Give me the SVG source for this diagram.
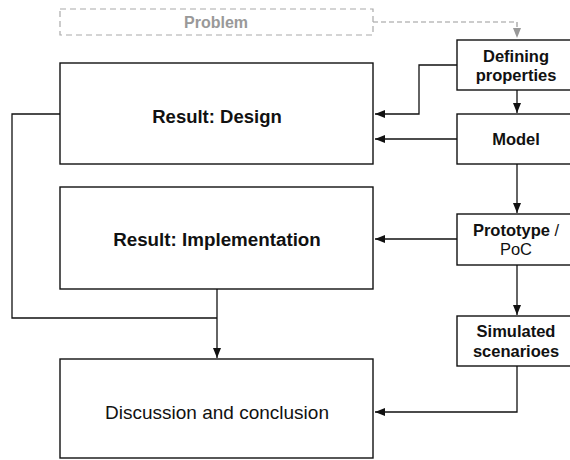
<svg xmlns="http://www.w3.org/2000/svg" width="570" height="460" viewBox="0 0 570 460">
<style>
.box{fill:#fff;stroke:#111;stroke-width:1.4}
.dbox{fill:#fff;stroke:#aaa;stroke-width:1.2;stroke-dasharray:6 4}
.t{font-family:"Liberation Sans",Arial,sans-serif;fill:#111;text-anchor:middle}
.b{font-weight:bold}
.c{fill:none;stroke:#111;stroke-width:1.3}
.dc{fill:none;stroke:#999;stroke-width:1.2;stroke-dasharray:5 3}
</style>
<defs>
<marker id="ah" viewBox="0 0 10 8" refX="10" refY="4" markerWidth="10" markerHeight="8" markerUnits="userSpaceOnUse" orient="auto"><path d="M0,0L10,4L0,8z" fill="#111"/></marker>
<marker id="ahg" viewBox="0 0 10 8" refX="10" refY="4" markerWidth="10" markerHeight="8" markerUnits="userSpaceOnUse" orient="auto"><path d="M0,0L10,4L0,8z" fill="#999"/></marker>
</defs>
<g id="connectors">
<path class="dc" d="M373,22H517V38" marker-end="url(#ahg)"/>
<path class="c" d="M457,65H419V114H375" marker-end="url(#ah)"/>
<path class="c" d="M517,90V113" marker-end="url(#ah)"/>
<path class="c" d="M457,139H375" marker-end="url(#ah)"/>
<path class="c" d="M517,164V213" marker-end="url(#ah)"/>
<path class="c" d="M457,239H375" marker-end="url(#ah)"/>
<path class="c" d="M517,265V315" marker-end="url(#ah)"/>
<path class="c" d="M517,366V412H375" marker-end="url(#ah)"/>
<path class="c" d="M60,114H12V318H217"/>
<path class="c" d="M217,289V358" marker-end="url(#ah)"/>
</g>
<g id="problem">
<rect class="dbox" x="60" y="9" width="313" height="26"/>
<text class="t b" x="216" y="28" font-size="16" style="fill:#999">Problem</text>
</g>
<g id="defining">
<rect class="box" x="457" y="40" width="120" height="50"/>
<text class="t b" x="516" y="62" font-size="16.5">Defining</text>
<text class="t b" x="516" y="81" font-size="16.5">properties</text>
</g>
<g id="model">
<rect class="box" x="457" y="114" width="120" height="50"/>
<text class="t b" x="516" y="145" font-size="16.5">Model</text>
</g>
<g id="prototype">
<rect class="box" x="457" y="214" width="120" height="51"/>
<text class="t" x="516" y="236" font-size="16.5"><tspan class="b">Prototype</tspan> /</text>
<text class="t" x="516" y="255" font-size="16.5">PoC</text>
</g>
<g id="simulated">
<rect class="box" x="457" y="316" width="120" height="50"/>
<text class="t b" x="516" y="337" font-size="16.5">Simulated</text>
<text class="t b" x="516" y="357" font-size="16.5">scenarioes</text>
</g>
<g id="design">
<rect class="box" x="60" y="63" width="313" height="101"/>
<text class="t b" x="217" y="122.5" font-size="18.5">Result: Design</text>
</g>
<g id="implementation">
<rect class="box" x="60" y="187" width="313" height="102"/>
<text class="t b" x="217" y="246" font-size="18.8">Result: Implementation</text>
</g>
<g id="discussion">
<rect class="box" x="60" y="359" width="313" height="99"/>
<text class="t" x="217" y="419" font-size="19">Discussion and conclusion</text>
</g>
</svg>
